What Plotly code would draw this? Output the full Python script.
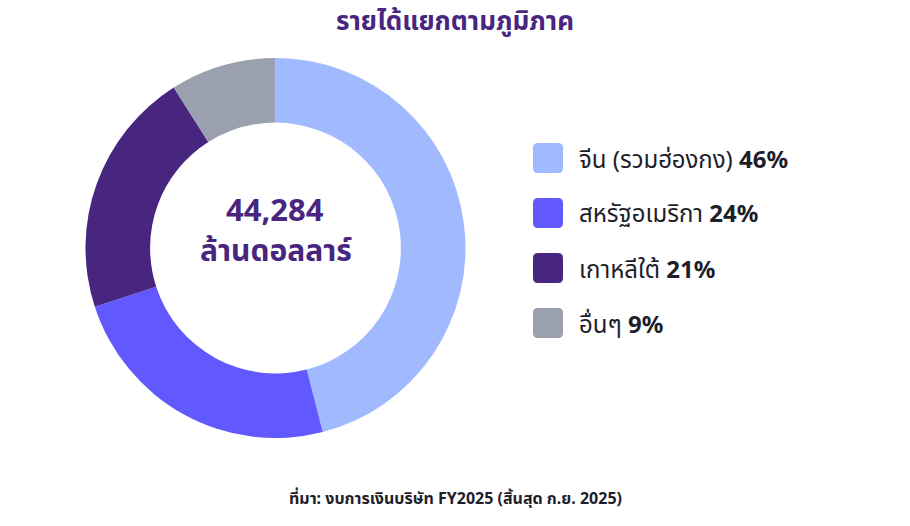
import plotly.graph_objects as go

W, H = 910, 526

regions = ["จีน (รวมฮ่องกง)", "สหรัฐอเมริกา", "เกาหลีใต้", "อื่นๆ"]
shares = [46, 24, 21, 9]
colors = ["#A1B9FE", "#6159FE", "#48267F", "#9AA0AE"]
total_revenue = "44,284"
unit_label = "ล้านดอลลาร์"
title_text = "รายได้แยกตามภูมิภาค"
source_text = "ที่มา: งบการเงินบริษัท FY2025 (สิ้นสุด ก.ย. 2025)"

FONT = "Noto Sans, Noto Sans Thai, sans-serif"
PURPLE = "#48267F"
DARK = "#1E1E2A"

def px(x):
    return x / W

def py(y):
    return 1 - y / H

fig = go.Figure()
fig.add_trace(go.Pie(
    labels=regions,
    values=shares,
    marker=dict(colors=colors, line=dict(width=0)),
    hole=0.66,
    sort=False,
    direction="clockwise",
    rotation=0,
    textinfo="none",
    hoverinfo="label+percent",
    showlegend=False,
    domain=dict(x=[px(85), px(466)], y=[py(438), py(58)]),
))

annotations = [
    dict(text=f"<b>{title_text}</b>", x=0.5, y=py(20), xref="paper", yref="paper",
         showarrow=False, font=dict(size=26, color=PURPLE, family=FONT), xanchor="center", yanchor="middle"),
    dict(text=f"<b>{total_revenue}</b>", x=px(275), y=py(209), xref="paper", yref="paper",
         showarrow=False, font=dict(size=31, color=PURPLE, family=FONT), xanchor="center", yanchor="middle"),
    dict(text=f"<b>{unit_label}</b>", x=px(276), y=py(250), xref="paper", yref="paper",
         showarrow=False, font=dict(size=30, color=PURPLE, family=FONT), xanchor="center", yanchor="middle"),
    dict(text=f"<b>{source_text}</b>", x=0.5, y=py(498), xref="paper", yref="paper",
         showarrow=False, font=dict(size=16, color=DARK, family=FONT), xanchor="center", yanchor="middle"),
]

shapes = []
row_y0, row_step = 158, 55
bx0, bsize, rad = 533, 30, 5
for i, (name, val, col) in enumerate(zip(regions, shares, colors)):
    cy = row_y0 + i * row_step
    x0, x1 = bx0, bx0 + bsize
    y0, y1 = cy - bsize / 2, cy + bsize / 2
    path = (
        f"M{px(x0 + rad)},{py(y0)} L{px(x1 - rad)},{py(y0)} Q{px(x1)},{py(y0)} {px(x1)},{py(y0 + rad)} "
        f"L{px(x1)},{py(y1 - rad)} Q{px(x1)},{py(y1)} {px(x1 - rad)},{py(y1)} "
        f"L{px(x0 + rad)},{py(y1)} Q{px(x0)},{py(y1)} {px(x0)},{py(y1 - rad)} "
        f"L{px(x0)},{py(y0 + rad)} Q{px(x0)},{py(y0)} {px(x0 + rad)},{py(y0)} Z"
    )
    shapes.append(dict(type="path", path=path, xref="paper", yref="paper",
                       fillcolor=col, line=dict(width=0), layer="above"))
    annotations.append(dict(text=f"{name} <b>{val}%</b>", x=px(577), y=py(cy), xref="paper", yref="paper",
                            showarrow=False, font=dict(size=24, color=DARK, family=FONT),
                            xanchor="left", yanchor="middle"))

fig.update_layout(
    width=W, height=H,
    margin=dict(l=0, r=0, t=0, b=0),
    paper_bgcolor="white", plot_bgcolor="white",
    annotations=annotations, shapes=shapes,
    showlegend=False,
)

fig.write_html("out.html")
